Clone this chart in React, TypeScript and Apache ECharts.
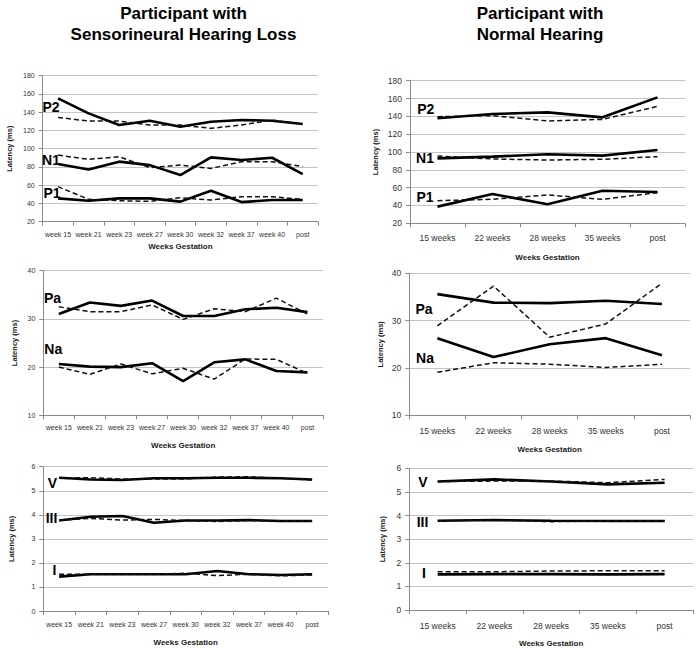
import React, { useEffect, useRef } from "react";
import * as echarts from "echarts";

const weeksSNHL = ["week 15", "week 21", "week 23", "week 27", "week 30", "week 32", "week 37", "week 40", "post"];
const weeksNH = ["15 weeks", "22 weeks", "28 weeks", "35 weeks", "post"];

// Sensorineural hearing loss – cortical (P1/N1/P2)
const snhlP2Solid = [155.2, 138.7, 126, 130.7, 124, 129.6, 131.4, 130.7, 127];
const snhlP2Dash = [134.3, 130.3, 130.3, 126, 126, 122.3, 126, 131.4, 126.7];
const snhlN1Solid = [83.2, 77.3, 85.8, 82, 71.1, 90.5, 87.6, 90.1, 72.2];
const snhlN1Dash = [93, 88.3, 91.2, 79.2, 82.1, 78.4, 85.8, 85.8, 80.3];
const snhlP1Solid = [45.6, 43, 45.6, 45.6, 42, 54, 41.5, 43.7, 43.7];
const snhlP1Dash = [58.4, 44.5, 43, 42.3, 46.3, 43.7, 47.4, 47.4, 44.5];

// Normal hearing – cortical
const nhP2Solid = [137.8, 142.6, 144.5, 138.9, 161.3];
const nhP2Dash = [139.6, 140.8, 134.8, 136.6, 151.2];
const nhN1Solid = [92.9, 94.8, 97.4, 95.9, 102.2];
const nhN1Dash = [95.5, 92.2, 91, 91.8, 94.8];
const nhP1Solid = [38.7, 52.9, 41.3, 56.6, 55.2];
const nhP1Dash = [45.4, 46.9, 51.8, 46.9, 54.4];

// Middle latency (Pa/Na)
const snhlPaSolid = [31.0, 33.4, 32.7, 33.8, 30.6, 30.6, 32.0, 32.3, 31.4];
const snhlPaDash = [32.5, 31.5, 31.5, 32.9, 29.9, 32.1, 31.5, 34.3, 31.0];
const snhlNaSolid = [20.65, 20.1, 20.0, 20.8, 17.1, 21.0, 21.6, 19.2, 18.9];
const snhlNaDash = [20.0, 18.5, 20.65, 18.6, 19.75, 17.5, 21.7, 21.6, 18.7];
const nhPaSolid = [35.6, 33.8, 33.7, 34.2, 33.5];
const nhPaDash = [28.9, 37.3, 26.5, 29.3, 37.9];
const nhNaSolid = [26.3, 22.3, 25.0, 26.3, 22.7];
const nhNaDash = [19.1, 21.1, 20.8, 20.1, 20.8];

// Brainstem (I/III/V)
const snhlVSolid = [5.54, 5.47, 5.45, 5.52, 5.52, 5.54, 5.54, 5.52, 5.47];
const snhlVDash = [5.54, 5.54, 5.49, 5.49, 5.49, 5.57, 5.58, 5.52, 5.45];
const snhlIIISolid = [3.76, 3.92, 3.95, 3.67, 3.76, 3.76, 3.78, 3.74, 3.74];
const snhlIIIDash = [3.78, 3.85, 3.78, 3.81, 3.76, 3.72, 3.76, 3.74, 3.74];
const snhlISolid = [1.43, 1.53, 1.53, 1.53, 1.53, 1.66, 1.53, 1.5, 1.53];
const snhlIDash = [1.53, 1.53, 1.53, 1.53, 1.57, 1.47, 1.53, 1.46, 1.5];
const nhVSolid = [5.44, 5.53, 5.44, 5.32, 5.39];
const nhVDash = [5.44, 5.46, 5.46, 5.39, 5.53];
const nhIIISolid = [3.78, 3.81, 3.78, 3.77, 3.77];
const nhIIIDash = [3.78, 3.81, 3.74, 3.77, 3.77];
const nhISolid = [1.51, 1.52, 1.52, 1.51, 1.52];
const nhIDash = [1.62, 1.62, 1.65, 1.66, 1.66];

const titleLeft = ["Participant with", "Sensorineural Hearing Loss"];
const titleRight = ["Participant with", "Normal Hearing"];
const xName = "Weeks Gestation";
const yName = "Latency (ms)";

const FONT = "'Liberation Sans', Arial, sans-serif";

type Panel = {
  grid: { left: number; top: number; width: number; height: number };
  cats: string[];
  min: number;
  max: number;
  interval: number;
  fs: number;
  yNameGap: number;
  xNameGap: number;
  xLabelMargin: number;
  series: { data: number[]; dashed: boolean }[];
  labels: { text: string; x: number; y: number }[];
};

const panels: Panel[] = [
  {
    grid: { left: 42.7, top: 75.7, width: 275.3, height: 146 },
    cats: weeksSNHL, min: 20, max: 180, interval: 20, fs: 7,
    yNameGap: 29, xNameGap: 21, xLabelMargin: 9,
    series: [
      { data: snhlP2Solid, dashed: false }, { data: snhlP2Dash, dashed: true },
      { data: snhlN1Solid, dashed: false }, { data: snhlN1Dash, dashed: true },
      { data: snhlP1Solid, dashed: false }, { data: snhlP1Dash, dashed: true },
    ],
    labels: [
      { text: "P2", x: 51, y: 106.7 }, { text: "N1", x: 51, y: 160 }, { text: "P1", x: 52, y: 193 },
    ],
  },
  {
    grid: { left: 410, top: 80.7, width: 275, height: 142.6 },
    cats: weeksNH, min: 20, max: 180, interval: 20, fs: 8.5,
    yNameGap: 31, xNameGap: 30, xLabelMargin: 10,
    series: [
      { data: nhP2Solid, dashed: false }, { data: nhP2Dash, dashed: true },
      { data: nhN1Solid, dashed: false }, { data: nhN1Dash, dashed: true },
      { data: nhP1Solid, dashed: false }, { data: nhP1Dash, dashed: true },
    ],
    labels: [
      { text: "P2", x: 425.7, y: 109.3 }, { text: "N1", x: 425, y: 158.3 }, { text: "P1", x: 425, y: 197.3 },
    ],
  },
  {
    grid: { left: 43.3, top: 270.7, width: 279.7, height: 144.6 },
    cats: weeksSNHL, min: 10, max: 40, interval: 10, fs: 7,
    yNameGap: 25, xNameGap: 26.5, xLabelMargin: 9,
    series: [
      { data: snhlPaSolid, dashed: false }, { data: snhlPaDash, dashed: true },
      { data: snhlNaSolid, dashed: false }, { data: snhlNaDash, dashed: true },
    ],
    labels: [
      { text: "Pa", x: 52.5, y: 297.7 }, { text: "Na", x: 53.3, y: 349.3 },
    ],
  },
  {
    grid: { left: 409.3, top: 273.3, width: 280.7, height: 142 },
    cats: weeksNH, min: 10, max: 40, interval: 10, fs: 8.5,
    yNameGap: 24.6, xNameGap: 30, xLabelMargin: 11,
    series: [
      { data: nhPaSolid, dashed: false }, { data: nhPaDash, dashed: true },
      { data: nhNaSolid, dashed: false }, { data: nhNaDash, dashed: true },
    ],
    labels: [
      { text: "Pa", x: 424, y: 309.3 }, { text: "Na", x: 425, y: 358.3 },
    ],
  },
  {
    grid: { left: 43.3, top: 466.7, width: 284.7, height: 144.3 },
    cats: weeksSNHL, min: 0, max: 6, interval: 1, fs: 7,
    yNameGap: 28, xNameGap: 27, xLabelMargin: 9.5,
    series: [
      { data: snhlVSolid, dashed: false }, { data: snhlVDash, dashed: true },
      { data: snhlIIISolid, dashed: false }, { data: snhlIIIDash, dashed: true },
      { data: snhlISolid, dashed: false }, { data: snhlIDash, dashed: true },
    ],
    labels: [
      { text: "V", x: 52.5, y: 482.7 }, { text: "III", x: 51.5, y: 518.3 }, { text: "I", x: 54.5, y: 570 },
    ],
  },
  {
    grid: { left: 409.3, top: 468.3, width: 283.7, height: 141.7 },
    cats: weeksNH, min: 0, max: 6, interval: 1, fs: 8.5,
    yNameGap: 22.6, xNameGap: 29, xLabelMargin: 11,
    series: [
      { data: nhVSolid, dashed: false }, { data: nhVDash, dashed: true },
      { data: nhIIISolid, dashed: false }, { data: nhIIIDash, dashed: true },
      { data: nhISolid, dashed: false }, { data: nhIDash, dashed: true },
    ],
    labels: [
      { text: "V", x: 423, y: 481.7 }, { text: "III", x: 422.5, y: 521.7 }, { text: "I", x: 424, y: 572.7 },
    ],
  },
];

function buildOption() {
  const grid: any[] = [];
  const xAxis: any[] = [];
  const yAxis: any[] = [];
  const series: any[] = [];
  const graphic: any[] = [];

  panels.forEach((p, i) => {
    grid.push({ ...p.grid, containLabel: false });
    xAxis.push({
      type: "category",
      gridIndex: i,
      data: p.cats,
      boundaryGap: true,
      name: xName,
      nameLocation: "middle",
      nameGap: p.xNameGap,
      nameTextStyle: { fontFamily: FONT, fontWeight: "bold", fontSize: 8, color: "#222" },
      axisLine: { show: true, lineStyle: { color: "#8a8a8a", width: 1 } },
      axisTick: { show: true, length: 4, lineStyle: { color: "#8a8a8a" }, alignWithLabel: false },
      axisLabel: { fontFamily: FONT, fontSize: p.fs, color: "#333", margin: p.xLabelMargin, interval: 0 },
      splitLine: { show: false },
    });
    yAxis.push({
      type: "value",
      gridIndex: i,
      min: p.min,
      max: p.max,
      interval: p.interval,
      name: yName,
      nameLocation: "middle",
      nameRotate: 90,
      nameGap: p.yNameGap,
      nameTextStyle: { fontFamily: FONT, fontWeight: "bold", fontSize: 7.5, color: "#222" },
      axisLine: { show: true, lineStyle: { color: "#8a8a8a", width: 1 } },
      axisTick: { show: true, length: 4, lineStyle: { color: "#8a8a8a" } },
      axisLabel: { fontFamily: FONT, fontSize: p.fs, color: "#333", margin: 8 },
      splitLine: { show: true, lineStyle: { color: "#c4c4c4", width: 1 } },
    });
    p.series.forEach((s) => {
      series.push({
        type: "line",
        xAxisIndex: i,
        yAxisIndex: i,
        data: s.data,
        symbol: "none",
        smooth: false,
        lineStyle: s.dashed
          ? { color: "#111", width: 1.5, type: [5, 3] }
          : { color: "#000", width: 2.6 },
        z: s.dashed ? 3 : 2,
      });
    });
    p.labels.forEach((l) => {
      graphic.push({
        type: "text",
        x: l.x,
        y: l.y,
        style: {
          text: l.text,
          fontFamily: FONT,
          fontWeight: "bold",
          fontSize: 14,
          fill: "#000",
          textAlign: "center",
          textVerticalAlign: "middle",
        },
        z: 10,
      });
    });
  });

  const titleStyle = { fontFamily: FONT, fontWeight: "bold", fontSize: 17, fill: "#000", textAlign: "center", textVerticalAlign: "middle" };
  graphic.push({ type: "text", x: 183.5, y: 13.5, style: { ...titleStyle, text: titleLeft[0] } });
  graphic.push({ type: "text", x: 183.5, y: 34.5, style: { ...titleStyle, text: titleLeft[1] } });
  graphic.push({ type: "text", x: 540, y: 13.5, style: { ...titleStyle, text: titleRight[0] } });
  graphic.push({ type: "text", x: 540, y: 34.5, style: { ...titleStyle, text: titleRight[1] } });

  return {
    animation: false,
    backgroundColor: "#fff",
    grid,
    xAxis,
    yAxis,
    series,
    graphic,
  };
}

export default function App() {
  const ref = useRef<HTMLDivElement>(null);
  useEffect(() => {
    if (!ref.current) return;
    const chart = echarts.init(ref.current, undefined, { renderer: "svg" });
    chart.setOption(buildOption() as any);
    return () => chart.dispose();
  }, []);
  return (
    <div
      ref={ref}
      style={{ position: "fixed", left: 0, top: 0, width: 700, height: 649, background: "#fff" }}
    />
  );
}
